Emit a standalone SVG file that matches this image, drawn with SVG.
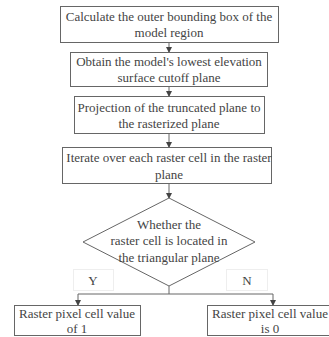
<svg xmlns="http://www.w3.org/2000/svg" width="329" height="337" viewBox="0 0 329 337">
<defs>
<marker id="ah" markerWidth="6" markerHeight="6" refX="5" refY="3" orient="auto" markerUnits="userSpaceOnUse">
<path d="M0,0 L6,3 L0,6 z" fill="#444"/>
</marker>
<style>
.box{fill:#fff;stroke:#666;stroke-width:1}
.t{font-family:"Liberation Serif",serif;font-size:13px;fill:#444;text-anchor:middle}
.c{fill:none;stroke:#666;stroke-width:1}
.lb{fill:none;stroke:#eee;stroke-width:1}
</style>
</defs>
<rect width="329" height="337" fill="#fff"/>
<g id="connectors">
<line class="c" x1="169" y1="43" x2="169" y2="52" marker-end="url(#ah)"/>
<line class="c" x1="169" y1="87" x2="169" y2="96" marker-end="url(#ah)"/>
<line class="c" x1="169" y1="134" x2="169" y2="147" marker-end="url(#ah)"/>
<line class="c" x1="169" y1="184" x2="169" y2="198" marker-end="url(#ah)"/>
<polyline class="c" points="169,286 169,294 78,294 78,305" marker-end="url(#ah)"/>
<polyline class="c" points="169,294 273,294 273,305" marker-end="url(#ah)"/>
<rect class="lb" x="73.500" y="269.500" width="40" height="21"/>
<text class="t" x="93" y="285">Y</text>
<rect class="lb" x="226.500" y="269.500" width="41" height="21"/>
<text class="t" x="247" y="285">N</text>
</g>
<g id="n1">
<rect class="box" x="60.500" y="6.500" width="218" height="36"/>
<text class="t" x="169" y="21">Calculate the outer bounding box of the</text>
<text class="t" x="169" y="37">model region</text>
</g>
<g id="n2">
<rect class="box" x="70.500" y="52.500" width="197" height="34"/>
<text class="t" x="169" y="66">Obtain the model's lowest elevation</text>
<text class="t" x="169" y="82">surface cutoff plane</text>
</g>
<g id="n3">
<rect class="box" x="74.500" y="96.500" width="190" height="37"/>
<text class="t" x="169" y="112">Projection of the truncated plane to</text>
<text class="t" x="169" y="128">the rasterized plane</text>
</g>
<g id="n4">
<rect class="box" x="62.500" y="147.500" width="209" height="36"/>
<text class="t" x="169" y="162">Iterate over each raster cell in the raster</text>
<text class="t" x="169" y="179">plane</text>
</g>
<g id="n5">
<polygon class="box" points="169,198 255,242 169,286 83,242"/>
<text class="t" x="169" y="229">Whether the</text>
<text class="t" x="169" y="245">raster cell is located in</text>
<text class="t" x="169" y="262">the triangular plane</text>
</g>
<g id="n6">
<rect class="box" x="14.500" y="305.500" width="126" height="30"/>
<text class="t" x="77" y="318">Raster pixel cell value</text>
<text class="t" x="77" y="333">of 1</text>
</g>
<g id="n7">
<rect class="box" x="207.500" y="305.500" width="130" height="30"/>
<text class="t" x="270" y="318">Raster pixel cell value</text>
<text class="t" x="270" y="333">is 0</text>
</g>
</svg>
